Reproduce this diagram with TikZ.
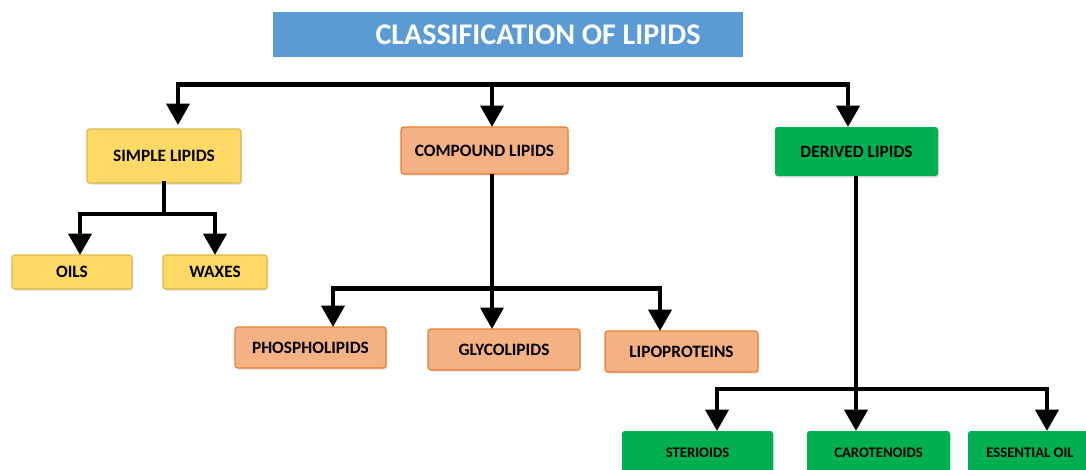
\documentclass[tikz,border=0pt]{standalone}
\usepackage{fontspec}
\setmainfont{Carlito}
\usetikzlibrary{arrows.meta,shadows}
\definecolor{tblue}{HTML}{5B9BD5}
\definecolor{syellow}{HTML}{FFD966}
\definecolor{syellowb}{HTML}{D9B84A}
\definecolor{csalmon}{HTML}{F4B183}
\definecolor{csalmonb}{HTML}{ED7D31}
\definecolor{dgreen}{HTML}{00B050}
\tikzset{
  box/.style={rectangle, rounded corners=2pt, inner sep=0pt, outer sep=0pt,
    font=\bfseries\fontsize{13}{15}\selectfont, text=black,
    drop shadow={shadow xshift=0.8pt, shadow yshift=-1.2pt, opacity=0.25}},
  simplebox/.style={box, fill=syellow, draw=syellowb, line width=0.8pt},
  compbox/.style={box, fill=csalmon, draw=csalmonb, line width=0.8pt},
  derbox/.style={box, fill=dgreen, draw=none},
  smalltxt/.style={font=\bfseries\fontsize{11}{13}\selectfont},
  conn/.style={line width=3.4pt, black, line cap=rect},
  arr/.style={line width=3.4pt, black, -{Triangle[width=17pt,length=16pt]}},
}
\begin{document}
\begin{tikzpicture}[x=0.75pt,y=-0.75pt]
\useasboundingbox (0,0) rectangle (1086,469);
% title
\node[rectangle, fill=tblue, inner sep=0pt, minimum width=352.5pt, minimum height=33.75pt] (title) at (508,34.5) {};
\node[text=white, font=\bfseries\fontsize{22.5}{26}\selectfont] (titletext) at (538,35) {CLASSIFICATION OF LIPIDS};
% level 1
\node[simplebox, minimum width=115.5pt, minimum height=40.5pt] (simple) at (164,156) {SIMPLE LIPIDS};
\node[compbox, minimum width=125.25pt, minimum height=35.25pt] (compound) at (484.5,150.5) {COMPOUND LIPIDS};
\node[derbox, minimum width=122.25pt, minimum height=36.75pt] (derived) at (856.5,151.5) {DERIVED LIPIDS};
% level 2 simple
\node[simplebox, minimum width=90pt, minimum height=25.5pt] (oils) at (72,272) {OILS};
\node[simplebox, minimum width=78pt, minimum height=25.5pt] (waxes) at (215,272) {WAXES};
% level 2 compound
\node[compbox, minimum width=113.25pt, minimum height=30.75pt] (phospho) at (310.5,347.5) {PHOSPHOLIPIDS};
\node[compbox, minimum width=114pt, minimum height=30.75pt] (glyco) at (504,349.5) {GLYCOLIPIDS};
\node[compbox, minimum width=114.75pt, minimum height=30.75pt] (lipo) at (681.5,351.5) {LIPOPROTEINS};
% level 2 derived
\node[derbox, smalltxt, minimum width=113.25pt, minimum height=33pt] (sterioids) at (697.5,453) {STERIOIDS};
\node[derbox, smalltxt, minimum width=107.25pt, minimum height=33pt] (carot) at (878.5,453) {CAROTENOIDS};
\node[derbox, smalltxt, minimum width=93pt, minimum height=33pt] (essential) at (1030,453) {ESSENTIAL OIL};
% top bus
\coordinate (b1) at (178,84.5);
\coordinate (b2) at (492,84.5);
\coordinate (b3) at (848,84.5);
\draw[conn] (b1) -- (b3);
\draw[arr, shorten >=3pt] (b1) -- (b1 |- simple.north);
\draw[arr] (b2) -- (b2 |- compound.north);
\draw[arr] (b3) -- (b3 |- derived.north);
% simple branch
\coordinate (s1) at (80,214);
\coordinate (s2) at (215,214);
\draw[conn] (simple.south) -- (simple.south |- s1);
\draw[conn] (s1) -- (s2);
\draw[arr] (s1) -- (s1 |- oils.north);
\draw[arr] (s2) -- (s2 |- waxes.north);
% compound branch
\coordinate (c1) at (333,288.5);
\coordinate (c2) at (492,288.5);
\coordinate (c3) at (660,288.5);
\draw[conn] (c1) -- (c3);
\draw[arr] (compound.south -| c2) -- (c2 |- glyco.north);
\draw[arr] (c1) -- (c1 |- phospho.north);
\draw[arr] (c3) -- (c3 |- lipo.north);
% derived branch
\coordinate (d1) at (717,389);
\coordinate (d2) at (856,389);
\coordinate (d3) at (1047,389);
\draw[conn] (d1) -- (d3);
\draw[arr] (derived.south -| d2) -- (d2 |- carot.north);
\draw[arr] (d1) -- (d1 |- sterioids.north);
\draw[arr] (d3) -- (d3 |- essential.north);
\end{tikzpicture}
\end{document}
